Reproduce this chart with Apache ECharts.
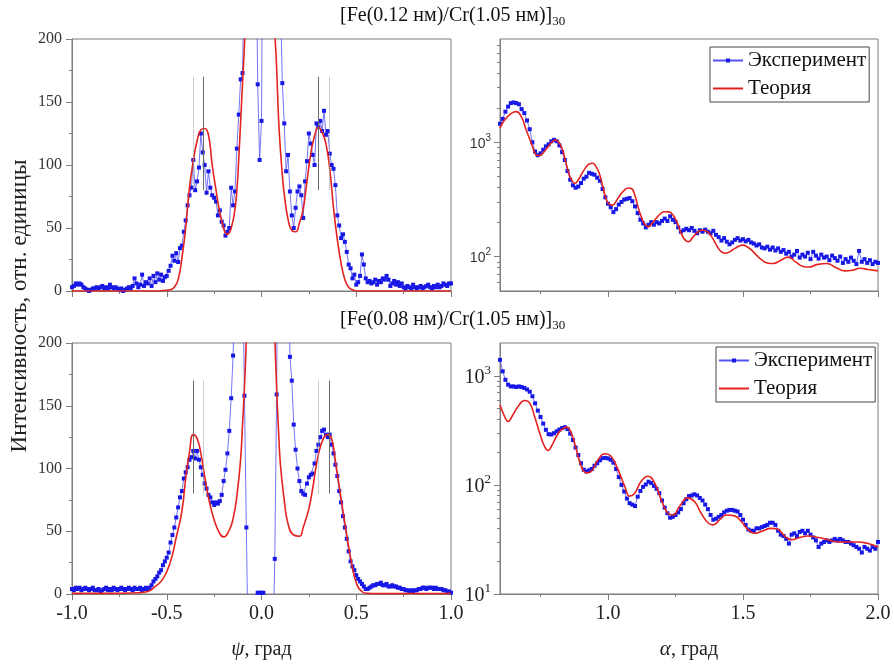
<!DOCTYPE html>
<html>
<head>
<meta charset="utf-8">
<script src="https://cdn.jsdelivr.net/npm/echarts@6/dist/echarts.min.js"></script>
<style>
html, body { margin: 0; padding: 0; background: #fff; }
#chart-panel { width: 894px; height: 666px; }
</style>
</head>
<body>
<div id="chart-panel"></div>
<script>
// psi scans: measured on a regular grid -1 .. 1, step 0.01
var psiStart = -1, psiStep = 0.01;
// alpha scans: 0.6 .. 2.0, step 0.01
var alphaStart = 0.6, alphaStep = 0.01;

var expTop = [
    3, 4, 6, 5, 6, 5, 3, 2, 1, 0,
    1, 2, 2, 3, 2, 3, 4, 2, 3, 2,
    5, 3, 2, 3, 2, 1, 2, 0, 1, 2,
    3, 2, 4, 10, 6, 3, 5, 13, 4, 7,
    6, 10, 4, 12, 7, 14, 9, 13, 8, 11,
    12, 16, 20, 28, 24, 30, 23, 34, 36, 47,
    56, 68, 76, 82, 104, 80, 87, 98, 125, 110,
    100, 78, 95, 82, 76, 74, 71, 60, 64, 55,
    52, 44, 47, 50, 82, 68, 79, 113, 140, 168,
    173, 260, 400, 400, 400, 400, 400, 300, 164, 104,
    135, 400, 400, 400, 400, 400, 400, 400, 400, 300,
    230, 165, 133, 95, 108, 79, 60, 50, 66, 79,
    83, 76, 58, 87, 103, 125, 117, 108, 100, 133,
    130, 135, 127, 143, 124, 127, 109, 100, 97, 84,
    60, 52, 42, 45, 39, 31, 21, 18, 10, 13,
    5, 7, 12, 29, 21, 10, 7, 8, 6, 7,
    9, 5, 8, 7, 10, 9, 12, 9, 4, 6,
    8, 5, 7, 4, 6, 3, 2, 4, 3, 2,
    5, 3, 2, 3, 4, 2, 3, 4, 5, 3,
    2, 4, 3, 5, 3, 4, 6, 5, 4, 6,
    6
];
var expBottom = [
    4, 3, 5, 4, 5, 3, 4, 5, 4, 3,
    4, 5, 3, 3, 4, 2, 3, 4, 5, 3,
    4, 3, 5, 4, 3, 4, 5, 4, 3, 4,
    5, 4, 3, 5, 4, 4, 5, 3, 4, 5,
    4, 5, 7, 10, 12, 14, 17, 19, 23, 26,
    29, 33, 41, 47, 53, 61, 69, 77, 82, 92,
    97, 101, 107, 109, 114, 108, 114, 107, 101, 95,
    88, 84, 79, 77, 73, 71, 73, 72, 74, 79,
    90, 99, 112, 130, 156, 190, 240, 400, 400, 400,
    400, 158, 53, -50, -50, -50, -50, -50, 1, 1,
    1, 1, -50, -50, -50, -50, -50, 28, 159, 400,
    400, 400, 400, 400, 400, 189, 170, 135, 115, 100,
    90, 82, 80, 79, 88, 93, 95, 96, 104, 114,
    119, 125, 130, 131, 127, 125, 127, 119, 112, 103,
    94, 82, 73, 62, 53, 44, 34, 26, 22, 19,
    15, 12, 10, 8, 6, 4, 4, 5, 6, 7,
    7, 8, 8, 9, 7, 7, 8, 6, 6, 7,
    6, 6, 5, 5, 4, 4, 3, 3, 2, 3,
    2, 3, 3, 4, 4, 5, 5, 4, 5, 5,
    5, 4, 5, 4, 4, 4, 3, 3, 2, 2,
    1
];

var thPsiTop = [-1, -0.8, -0.6, -0.55, -0.52, -0.5, -0.48, -0.46, -0.44, -0.42,
    -0.4, -0.38, -0.36, -0.34, -0.32, -0.3, -0.28, -0.26, -0.24, -0.22,
    -0.2, -0.19, -0.18, -0.16, -0.14, -0.13, -0.12, -0.11, -0.1, -0.09,
    -0.08, -0.06, -0.04, -0.02, 0, 0.02, 0.04, 0.06, 0.07, 0.08,
    0.09, 0.1, 0.11, 0.12, 0.14, 0.16, 0.18, 0.2, 0.22, 0.24,
    0.26, 0.28, 0.3, 0.32, 0.34, 0.36, 0.38, 0.4, 0.42, 0.44,
    0.46, 0.48, 0.5, 0.55, 0.6, 0.8, 1];
var thTop = [0, 0, 0, 0, 0.3, 0.6, 1, 3, 9, 26,
    50, 82, 103, 119, 128, 129, 124, 100, 80, 62,
    50, 46, 45, 50, 65, 80, 105, 135, 165, 195,
    240, 350, 600, 900, 1000, 900, 600, 300, 210, 177,
    137, 112, 92, 77, 57, 48, 47, 54, 65, 87,
    109, 123, 130, 126, 117, 97, 66, 41, 22, 9,
    3, 1, 0, 0, 0, 0, 0];

var thPsiBottom = [-1, -0.8, -0.65, -0.6, -0.56, -0.52, -0.48, -0.45, -0.42, -0.4,
    -0.38, -0.36, -0.34, -0.32, -0.3, -0.28, -0.25, -0.22, -0.2, -0.17,
    -0.15, -0.13, -0.11, -0.1, -0.09, -0.08, -0.06, -0.04, -0.02, 0,
    0.02, 0.04, 0.06, 0.07, 0.08, 0.09, 0.1, 0.12, 0.14, 0.17,
    0.2, 0.22, 0.25, 0.27, 0.3, 0.33, 0.35, 0.37, 0.39, 0.41,
    0.43, 0.45, 0.47, 0.5, 0.53, 0.56, 0.6, 0.8, 1];
var thBottom = [0.5, 0.5, 1, 2, 6, 12, 26, 45, 66, 92,
    113, 127, 124, 112, 94, 77, 59, 48, 45.5, 51,
    60, 78, 108, 135, 165, 205, 350, 600, 900, 1000,
    900, 600, 300, 210, 164, 130, 103, 75, 56, 47,
    46, 53, 68, 84, 111, 125, 127, 124, 106, 86,
    66, 47, 29, 9, 2, 0.5, 0.3, 0.3, 0.3];

var expRightTop = [
    1450, 1600, 1850, 2050, 2200, 2230, 2200, 2150, 1950, 1800,
    1550, 1300, 1000, 830, 770, 800, 860, 920, 960, 1020,
    1050, 1020, 940, 820, 700, 560, 470, 420, 400, 410,
    440, 480, 500, 540, 530, 520, 490, 460, 390, 330,
    290, 270, 245, 260, 285, 300, 315, 320, 325, 305,
    275, 240, 210, 195, 180, 190, 200, 190, 200, 195,
    205, 215, 205, 225, 210, 200, 180, 165, 170, 175,
    170, 178, 168, 160, 170, 165, 172, 165, 160, 168,
    155, 148, 138, 145, 135, 128, 133, 140, 145, 138,
    142, 136, 140, 133, 130, 125, 128, 120, 118, 122,
    115, 120, 113, 118, 110, 114, 106, 110, 100, 104,
    112, 98, 104, 100, 108, 95, 110, 102, 96, 104,
    98, 100, 93, 102, 97, 92, 100, 88, 95, 90,
    98, 92, 86, 112, 90, 95, 88, 93, 86, 90,
    88
];
var expRightBottom = [
    1400, 1100, 920, 830, 800, 800, 790, 800, 790, 775,
    750, 715, 650, 560, 480, 420, 365, 320, 292, 290,
    298, 310, 322, 332, 338, 325, 295, 258, 220, 188,
    158, 138, 133, 136, 140, 150, 158, 168, 176, 177,
    175, 170, 160, 140, 118, 100, 87, 75, 68, 66,
    64, 78, 88, 96, 101, 107, 104, 98, 92, 84,
    72, 62, 55, 50, 51, 53, 56, 60, 68, 74,
    79, 80, 82, 80, 76, 72, 66, 60, 53, 48,
    49, 51, 53, 56, 58, 59, 59, 58, 57, 53,
    48, 43, 39, 38, 38, 40, 40, 41, 42, 43,
    45, 45, 43, 38, 35, 34, 32, 29, 35, 36,
    34, 37, 38, 36, 38, 35, 33, 31, 27, 29,
    30, 31, 30, 31, 32, 31, 32, 31, 30, 30,
    29, 28, 27, 26, 24, 27, 26, 25, 27, 26,
    30
];

var thAlphaTop = [0.6, 0.617, 0.642, 0.66, 0.679, 0.697, 0.716, 0.727, 0.737, 0.748,
    0.762, 0.778, 0.792, 0.805, 0.818, 0.83, 0.843, 0.858, 0.868, 0.878,
    0.89, 0.903, 0.917, 0.93, 0.943, 0.955, 0.967, 0.981, 0.993, 1.005,
    1.017, 1.03, 1.045, 1.06, 1.075, 1.088, 1.1, 1.112, 1.125, 1.138,
    1.15, 1.163, 1.178, 1.195, 1.21, 1.225, 1.24, 1.255, 1.27, 1.285,
    1.298, 1.312, 1.33, 1.35, 1.368, 1.385, 1.4, 1.417, 1.433, 1.45,
    1.47, 1.5, 1.515, 1.53, 1.55, 1.568, 1.59, 1.612, 1.64, 1.667,
    1.695, 1.723, 1.745, 1.773, 1.81, 1.845, 1.878, 1.905, 1.933, 1.965,
    2.0];
var thRightTop = [1325, 1567, 1792, 1852, 1675, 1280, 980, 830, 765, 768,
    820, 915, 1000, 1045, 1000, 880, 680, 510, 455, 438,
    470, 530, 600, 645, 655, 615, 540, 410, 320, 287,
    282, 305, 345, 380, 398, 392, 340, 268, 218, 190,
    183, 195, 215, 238, 247, 246, 232, 200, 162, 140,
    135, 145, 162, 171, 165, 148, 128, 112, 107, 110,
    118, 126, 122, 115, 103, 94, 88, 87, 93, 99,
    90, 82, 81, 85, 87, 80, 75, 76, 79, 77,
    75];

var thAlphaBottom = [0.6, 0.617, 0.63, 0.648, 0.667, 0.691, 0.71, 0.728, 0.747, 0.765,
    0.778, 0.79, 0.809, 0.827, 0.846, 0.864, 0.883, 0.901, 0.92, 0.938,
    0.963, 0.988, 1.012, 1.037, 1.062, 1.08, 1.099, 1.123, 1.148, 1.173,
    1.197, 1.222, 1.241, 1.266, 1.296, 1.321, 1.345, 1.37, 1.389, 1.414,
    1.438, 1.469, 1.494, 1.519, 1.543, 1.568, 1.605, 1.63, 1.654, 1.679,
    1.71, 1.741, 1.778, 1.815, 1.852, 1.889, 1.926, 1.963, 2.0];
var thRightBottom = [542, 424, 382, 440, 524, 594, 562, 424, 299, 225,
    207, 225, 278, 320, 339, 299, 210, 148, 129, 133,
    170, 193, 182, 138, 97, 79, 84, 108, 120, 104,
    73, 55, 53, 64, 76, 70, 55, 45, 43, 48,
    53, 52, 46, 39, 36, 37.5, 40, 39, 34, 31.5,
    33, 34, 33, 31.5, 30, 30, 30, 29, 27];

// vertical marker lines (psi position, dotted or not), from 80 to 170
var markPsi = [-0.36, -0.305, 0.302, 0.36];
var markDottedTop = [true, false, false, true];
var markDottedBottom = [false, true, true, false];
var markLow = 80, markHigh = 170;

var titles = ['[Fe(0.12 нм)/Cr(1.05 нм)]', '[Fe(0.08 нм)/Cr(1.05 нм)]'];
var titleSub = '30';
var legendNames = ['Эксперимент', 'Теория'];

var serif = '"Liberation Serif", "Times New Roman", serif';
var sans = '"Liberation Sans", Arial, sans-serif';
var grey = '#7d7d7d';
var blue = '#1717e6';
var red = '#e3231f';

function gridPairs(start, step, ys) {
    return ys.map(function (v, i) { return [+(start + i * step).toFixed(3), v]; });
}
function pairs(xs, ys) {
    return xs.map(function (x, i) { return [x, ys[i]]; });
}

function axisName(ax, letter) {
    ax.name = '{i|' + letter + '}{t|, град}';
    ax.nameLocation = 'middle';
    ax.nameGap = 45;
    ax.nameTextStyle = {rich: {
        i: {fontFamily: serif, fontStyle: 'italic', fontSize: 21, color: '#222'},
        t: {fontFamily: serif, fontSize: 20, color: '#222'}
    }};
    return ax;
}
function psiAxis(grid, labels) {
    var ax = {
        type: 'value', gridIndex: grid, position: 'bottom', min: -1, max: 1, interval: 0.5,
        axisLine: {onZero: false, lineStyle: {color: grey}},
        axisTick: {length: 6, lineStyle: {color: grey}},
        minorTick: {show: true, splitNumber: 2, length: 3, lineStyle: {color: grey}},
        splitLine: {show: false},
        axisLabel: {show: labels, margin: 10, fontFamily: serif, fontSize: 20, color: '#222',
            formatter: function (v) { return v.toFixed(1); }}
    };
    return labels ? axisName(ax, 'ψ') : ax;
}
function alphaAxis(grid, labels) {
    var ax = {
        type: 'value', gridIndex: grid, position: 'bottom', min: 0.6, max: 2.0,
        axisLine: {onZero: false, lineStyle: {color: grey}},
        axisTick: {customValues: [1.0, 1.5, 2.0], length: 6, lineStyle: {color: grey}},
        splitLine: {show: false},
        axisLabel: {show: labels, customValues: [1.0, 1.5, 2.0], margin: 10, fontFamily: serif, fontSize: 20, color: '#222',
            formatter: function (v) { return v.toFixed(1); }}
    };
    return labels ? axisName(ax, 'α') : ax;
}
function alphaMinorAxis(grid) {
    return {
        type: 'value', gridIndex: grid, position: 'bottom', min: 0.6, max: 2.0,
        axisLine: {show: false, onZero: false}, splitLine: {show: false}, axisLabel: {show: false},
        axisTick: {customValues: [0.75, 1.25, 1.75], length: 3, lineStyle: {color: grey}}
    };
}
function intensityAxis(grid) {
    return {
        type: 'value', gridIndex: grid, position: 'left', min: 0, max: 200, interval: 50,
        axisLine: {show: true, onZero: false, lineStyle: {color: grey}},
        axisTick: {show: true, length: 6, lineStyle: {color: grey}},
        minorTick: {show: true, splitNumber: 2, length: 3, lineStyle: {color: grey}},
        splitLine: {show: false},
        axisLabel: {margin: 10, fontFamily: serif, fontSize: 16, color: '#333'}
    };
}
function logAxis(grid, min, max, major, rich) {
    return {
        type: 'log', logBase: 10, gridIndex: grid, position: 'left', min: min, max: max,
        axisLine: {show: true, onZero: false, lineStyle: {color: grey}},
        axisTick: {show: true, customValues: major, length: 6, lineStyle: {color: grey}},
        splitLine: {show: false},
        axisLabel: {customValues: major, margin: 9, rich: rich,
            formatter: function (v) {
                return '{b|10}{s|' + Math.round(Math.log(v) / Math.LN10) + '}';
            }}
    };
}
function logMinorAxis(grid, min, max, vals) {
    return {
        type: 'log', logBase: 10, gridIndex: grid, position: 'left', min: min, max: max,
        axisLine: {show: false, onZero: false}, splitLine: {show: false}, axisLabel: {show: false},
        axisTick: {show: true, customValues: vals, length: 3, lineStyle: {color: grey}}
    };
}

function expSeries(name, xi, yi, data) {
    return {
        name: name, type: 'line', xAxisIndex: xi, yAxisIndex: yi, data: data,
        symbol: 'rect', symbolSize: 4, showSymbol: true, clip: true,
        itemStyle: {color: blue},
        lineStyle: {color: '#5252f5', width: 0.8},
        emphasis: {disabled: true}, silent: true, z: 2
    };
}
function theorySeries(name, xi, yi, data, marks) {
    var s = {
        name: name, type: 'line', xAxisIndex: xi, yAxisIndex: yi, data: data,
        symbol: 'none', smooth: 0.5, clip: true,
        itemStyle: {color: red},
        lineStyle: {color: red, width: 1.6},
        emphasis: {disabled: true}, silent: true, z: 3
    };
    if (marks) {
        s.markLine = {
            silent: true, symbol: 'none', label: {show: false}, animation: false,
            data: markPsi.map(function (p, i) {
                var dotted = marks[i];
                return [
                    {coord: [p, markLow], lineStyle: {color: dotted ? '#a0a0a0' : '#6a6a6a', width: 1, type: dotted ? 'dotted' : 'solid'}},
                    {coord: [p, markHigh]}
                ];
            })
        };
    }
    return s;
}

var titleRich = {
    a: {fontFamily: serif, fontSize: 20, fontWeight: 'normal', color: '#111', verticalAlign: 'top', lineHeight: 22},
    s: {fontFamily: serif, fontSize: 13, fontWeight: 'normal', color: '#111', verticalAlign: 'top', padding: [9, 0, 0, 0]}
};
var richSmall = {
    b: {fontFamily: sans, fontSize: 14, color: '#333', verticalAlign: 'bottom'},
    s: {fontFamily: sans, fontSize: 10, color: '#333', verticalAlign: 'bottom', padding: [0, 0, 8, 0]}
};
var richBig = {
    b: {fontFamily: serif, fontSize: 20, color: '#222', verticalAlign: 'bottom'},
    s: {fontFamily: serif, fontSize: 13, color: '#222', verticalAlign: 'bottom', padding: [0, 0, 10, 0]}
};

function legendAt(left, top) {
    return {
        orient: 'vertical', left: left, top: top,
        data: [{name: legendNames[0]}, {name: legendNames[1], itemStyle: {opacity: 0}}],
        itemWidth: 30, itemHeight: 5, itemGap: 7, padding: [3, 3, 3, 2],
        borderColor: '#444', borderWidth: 1, backgroundColor: '#fff',
        selectedMode: false,
        textStyle: {fontFamily: serif, fontSize: 21, color: '#111'}
    };
}

var option = {
    animation: false,
    backgroundColor: '#fff',
    title: [{
        text: '{a|' + titles[0] + '}{s|' + titleSub + '}', left: 340, top: 6, padding: 0,
        textStyle: {fontWeight: 'normal', rich: titleRich}
    }, {
        text: '{a|' + titles[1] + '}{s|' + titleSub + '}', left: 340, top: 310, padding: 0,
        textStyle: {fontWeight: 'normal', rich: titleRich}
    }],
    legend: [legendAt(710, 47), legendAt(716, 347)],
    grid: [
        {left: 72, top: 39, width: 379, height: 252, show: true, borderColor: grey, borderWidth: 1, outerBoundsMode: 'none'},
        {left: 500, top: 39, width: 378, height: 252, show: true, borderColor: grey, borderWidth: 1, outerBoundsMode: 'none'},
        {left: 72, top: 343, width: 379, height: 251, show: true, borderColor: grey, borderWidth: 1, outerBoundsMode: 'none'},
        {left: 500, top: 343, width: 378, height: 251, show: true, borderColor: grey, borderWidth: 1, outerBoundsMode: 'none'}
    ],
    xAxis: [
        psiAxis(0, false),
        alphaAxis(1, false),
        psiAxis(2, true),
        alphaAxis(3, true),
        alphaMinorAxis(1),
        alphaMinorAxis(3)
    ],
    yAxis: [
        intensityAxis(0),
        logAxis(1, 50, 8000, [100, 1000], richSmall),
        intensityAxis(2),
        logAxis(3, 10, 2000, [10, 100, 1000], richBig),
        logMinorAxis(1, 50, 8000, [60, 70, 80, 90, 200, 300, 400, 500, 600, 700, 800, 900, 2000, 3000, 4000, 5000, 6000, 7000]),
        logMinorAxis(3, 10, 2000, [20, 30, 40, 50, 60, 70, 80, 90, 200, 300, 400, 500, 600, 700, 800, 900])
    ],
    graphic: [{
        type: 'text', x: 20, y: 306, rotation: Math.PI / 2,
        style: {text: 'Интенсивность, отн. единицы', fontFamily: serif, fontSize: 23, fill: '#222',
            align: 'center', verticalAlign: 'middle'}
    }],
    series: [
        expSeries(legendNames[0], 0, 0, gridPairs(psiStart, psiStep, expTop)),
        theorySeries(legendNames[1], 0, 0, pairs(thPsiTop, thTop), markDottedTop),
        expSeries(legendNames[0], 1, 1, gridPairs(alphaStart, alphaStep, expRightTop)),
        theorySeries(legendNames[1], 1, 1, pairs(thAlphaTop, thRightTop)),
        expSeries(legendNames[0], 2, 2, gridPairs(psiStart, psiStep, expBottom)),
        theorySeries(legendNames[1], 2, 2, pairs(thPsiBottom, thBottom), markDottedBottom),
        expSeries(legendNames[0], 3, 3, gridPairs(alphaStart, alphaStep, expRightBottom)),
        theorySeries(legendNames[1], 3, 3, pairs(thAlphaBottom, thRightBottom))
    ]
};

var myChart = echarts.init(document.getElementById('chart-panel'));
myChart.setOption(option);
</script>
</body>
</html>
